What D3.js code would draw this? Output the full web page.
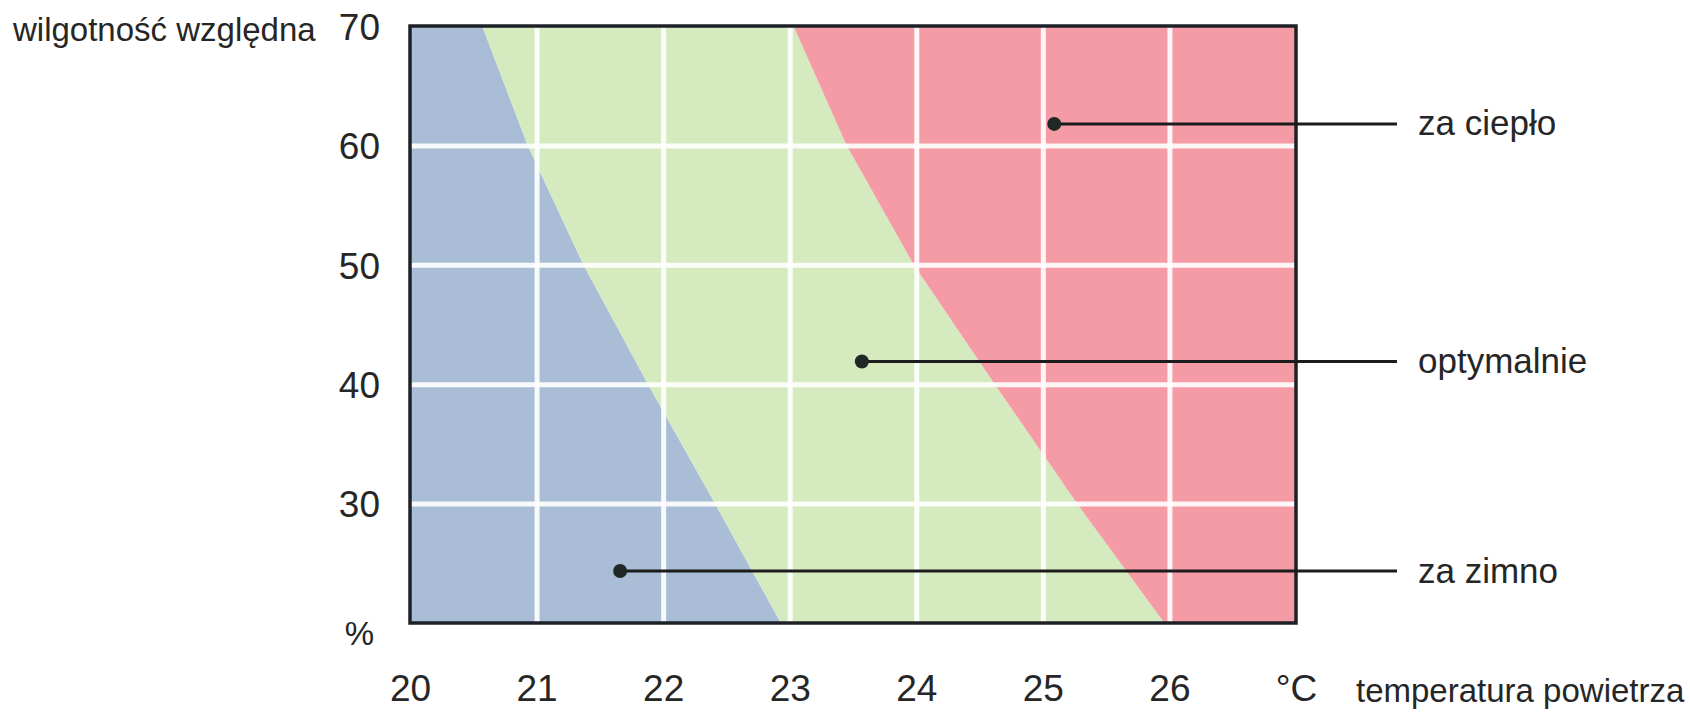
<!DOCTYPE html>
<html>
<head>
<meta charset="utf-8">
<script src="https://cdn.jsdelivr.net/npm/d3@7"></script>
<style>
  html, body { margin: 0; padding: 0; background: #ffffff; }
  svg { display: block; }
  text { font-family: "Liberation Sans", Arial, sans-serif; fill: #262626; }
</style>
</head>
<body>
<svg id="chart" width="1690" height="714"></svg>
<script>
// ---- data ----
const humidityLevels = [70, 60, 50, 40, 30, 20];            // relative humidity (%)
const coldLimit      = [20.57, 20.93, 21.37, 21.88, 22.41, 22.93]; // °C, boundary "za zimno" / "optymalnie"
const warmLimit      = [23.03, 23.45, 23.98, 24.62, 25.27, 25.96]; // °C, boundary "optymalnie" / "za ciepło"
const xTickValues    = [20, 21, 22, 23, 24, 25, 26, 27];
const xTickLabels    = ["20", "21", "22", "23", "24", "25", "26", "°C"];
const yTickValues    = [70, 60, 50, 40, 30];
const yTickLabels    = ["70", "60", "50", "40", "30"];
const xGridValues    = [21, 22, 23, 24, 25, 26];
const yGridValues    = [30, 40, 50, 60];
const zoneNames      = ["za ciepło", "optymalnie", "za zimno"];
const zoneTemp       = [25.09, 23.57, 21.66];
const zoneHumidity   = [61.8, 41.9, 24.35];
const yAxisTitle     = "wilgotność względna";
const xAxisTitle     = "temperatura powietrza";
const yUnitLabel     = "%";

// ---- layout ----
const svg = d3.select("#chart");
const pL = 410, pR = 1296, pT = 26, pB = 623;
const x = d3.scaleLinear().domain([20, 27]).range([pL, pR]);
const y = d3.scaleLinear().domain([20, 70]).range([pB, pT]);

const colors = { cold: "#a9bdd6", ok: "#d6eabf", warm: "#f59ba5" };

const line = d3.line().x(d => x(d[0])).y(d => y(d[1]));
const coldPts = humidityLevels.map((h, i) => [coldLimit[i], h]);
const warmPts = humidityLevels.map((h, i) => [warmLimit[i], h]);
const xMin = x.domain()[0], xMax = x.domain()[1];
const yMin = y.domain()[0], yMax = y.domain()[1];

const polyCold = [[xMin, yMax], ...coldPts, [xMin, yMin]];
const polyOk   = [...coldPts, ...warmPts.slice().reverse()];
const polyWarm = [...warmPts, [xMax, yMin], [xMax, yMax]];

const zones = svg.append("g");
zones.append("path").attr("d", line(polyCold) + "Z").attr("fill", colors.cold);
zones.append("path").attr("d", line(polyOk) + "Z").attr("fill", colors.ok);
zones.append("path").attr("d", line(polyWarm) + "Z").attr("fill", colors.warm);

// ---- grid (via axes) ----
const gridX = svg.append("g")
  .attr("transform", `translate(0,${pB})`)
  .call(d3.axisBottom(x).tickValues(xGridValues).tickSize(-(pB - pT)).tickFormat(""));
const gridY = svg.append("g")
  .attr("transform", `translate(${pL},0)`)
  .call(d3.axisLeft(y).tickValues(yGridValues).tickSize(-(pR - pL)).tickFormat(""));
[gridX, gridY].forEach(g => {
  g.select(".domain").remove();
  g.selectAll(".tick line").attr("stroke", "#ffffff").attr("stroke-opacity", 0.9).attr("stroke-width", 5);
});

// ---- frame ----
svg.append("rect")
  .attr("x", pL).attr("y", pT)
  .attr("width", pR - pL).attr("height", pB - pT)
  .attr("fill", "none").attr("stroke", "#1d2127").attr("stroke-width", 3.5);

// ---- tick labels ----
const xAxis = svg.append("g")
  .attr("transform", `translate(0,${pB})`)
  .call(d3.axisBottom(x).tickValues(xTickValues).tickSize(0).tickPadding(0)
    .tickFormat((d, i) => xTickLabels[i]));
xAxis.select(".domain").remove();
xAxis.selectAll("text")
  .attr("y", 78).attr("dy", 0)
  .attr("font-size", 37).attr("font-family", "Liberation Sans, Arial, sans-serif").attr("fill", "#2a2a2a");

const yAxis = svg.append("g")
  .attr("transform", `translate(${pL},0)`)
  .call(d3.axisLeft(y).tickValues(yTickValues).tickSize(0).tickPadding(0)
    .tickFormat((d, i) => yTickLabels[i]));
yAxis.select(".domain").remove();
yAxis.selectAll("text")
  .attr("x", -30).attr("dy", "0.36em")
  .attr("font-size", 37).attr("font-family", "Liberation Sans, Arial, sans-serif").attr("fill", "#2a2a2a");

svg.append("text")
  .attr("x", pL - 36).attr("y", y(yMin) + 10).attr("dy", "0.36em")
  .attr("text-anchor", "end").attr("font-size", 33)
  .text(yUnitLabel);

svg.append("text")
  .attr("x", 13).attr("y", 41)
  .attr("font-size", 33)
  .text(yAxisTitle);

svg.append("text")
  .attr("x", 1356).attr("y", 690).attr("dy", "0.36em")
  .attr("font-size", 33)
  .text(xAxisTitle);

// ---- zone markers and labels ----
const labelLineEnd = 1397;
const markers = svg.append("g");
zoneNames.forEach((name, i) => {
  const cx = x(zoneTemp[i]), cy = y(zoneHumidity[i]);
  markers.append("line")
    .attr("x1", cx).attr("y1", cy).attr("x2", labelLineEnd).attr("y2", cy)
    .attr("stroke", "#1c1c1c").attr("stroke-width", 3);
  markers.append("circle")
    .attr("cx", cx).attr("cy", cy).attr("r", 7)
    .attr("fill", "#1f2824");
  markers.append("text")
    .attr("x", 1418).attr("y", cy).attr("dy", "0.33em")
    .attr("font-size", 35)
    .text(name);
});
</script>
</body>
</html>
